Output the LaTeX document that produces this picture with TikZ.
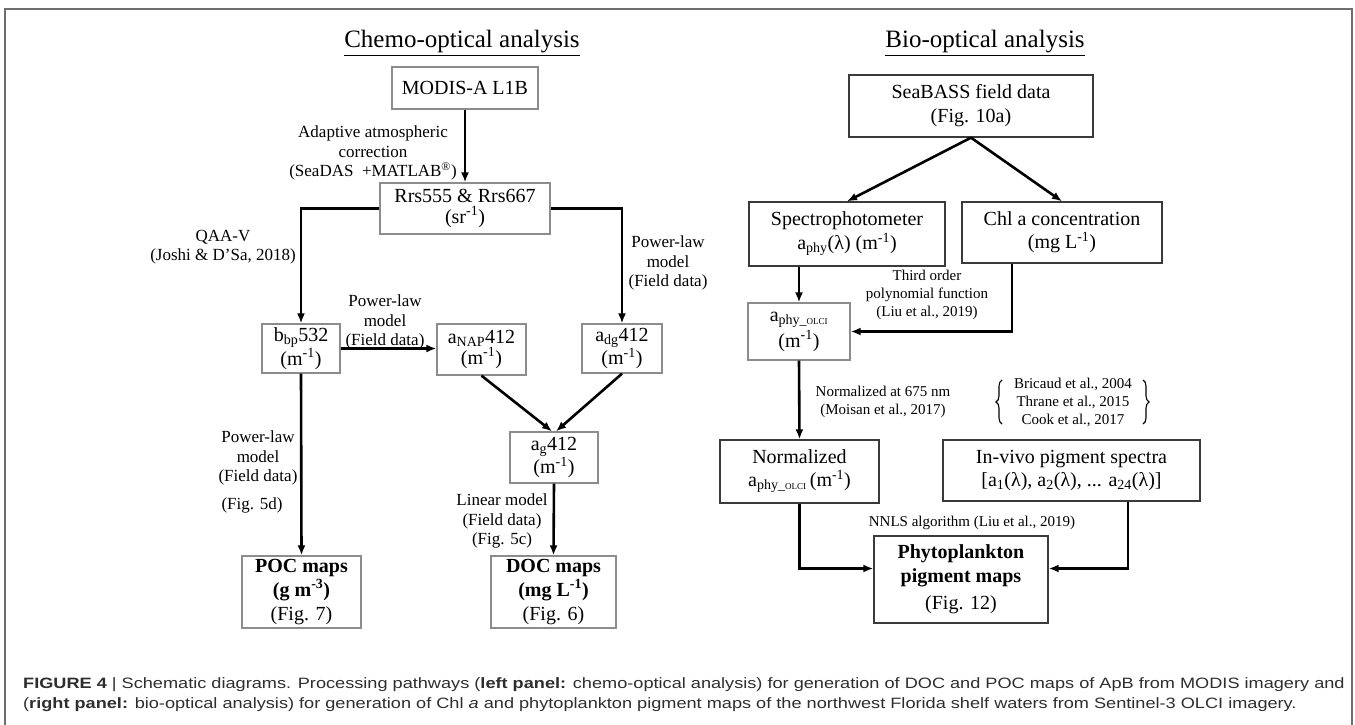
\documentclass[tikz,border=0pt]{standalone}
\usepackage{fontspec}
\setmainfont{Liberation Serif}
\setsansfont{Liberation Sans}
\newfontfamily\capfont{Liberation Sans}[FakeStretch=1.21]
\usetikzlibrary{arrows.meta,decorations.pathreplacing}
\definecolor{boxgray}{HTML}{8C8C8C}
\definecolor{boxdark}{HTML}{3A3A3A}
\definecolor{framegray}{HTML}{6E6E6E}
\definecolor{captext}{HTML}{2E2E2E}
\newcommand\fsbox{\fontsize{20}{21}\selectfont}
\newcommand\fsboxb{\fontsize{20}{24}\selectfont}
\newcommand\fslab{\fontsize{17}{19.5}\selectfont}
\newcommand\fssmall{\fontsize{15}{18}\selectfont}
\newcommand\fstitle{\fontsize{25}{27}\selectfont}
\newcommand\fscap{\fontsize{15}{18}\selectfont}
\newcommand\olci{{\fontsize{9}{9}\selectfont OLCI}}
\begin{document}
\begin{tikzpicture}[x=1pt,y=-1pt,
  bx/.style={draw=boxgray, line width=1.3pt, inner sep=0pt, align=center, font=\fsbox},
  bxd/.style={bx, draw=boxdark},
  lab/.style={inner sep=0pt, align=center, font=\fslab},
  slab/.style={inner sep=0pt, align=center, font=\fssmall},
  ttl/.style={inner sep=0pt, font=\fstitle},
  arr/.style={line width=2.6pt, -{Latex[length=10pt,width=8pt]}},
  captxt/.style={inner sep=0pt, anchor=base west, font=\capfont\fscap, text=captext}]
\useasboundingbox (0,0) rectangle (1355,725);
\fill[white] (0,0) rectangle (1355,725);
\draw[framegray, line width=1.8pt] (5,740) -- (5,9) -- (1352,9) -- (1352,740);

% titles
\node[ttl] (t1) at (462,43) {\underline{Chemo-optical analysis}};
\node[ttl] (t2) at (985,43) {\underline{Bio-optical analysis}};

% left panel boxes
\node[bx, minimum width=146, minimum height=42] (modis) at (465,88) {MODIS-A L1B};
\node[bx, minimum width=170, minimum height=51] (rrs) at (465,208.5) {Rrs555 \& Rrs667\\(sr\textsuperscript{-1})};
\node[bx, minimum width=78, minimum height=49] (bbp) at (301,348.5) {b\textsubscript{bp}532\\(m\textsuperscript{-1})};
\node[bx, minimum width=89, minimum height=51] (anap) at (481.5,349.5) {a\textsubscript{NAP}412\\(m\textsuperscript{-1})};
\node[bx, minimum width=80, minimum height=49] (adg) at (622,348.5) {a\textsubscript{dg}412\\(m\textsuperscript{-1})};
\node[bx, minimum width=88, minimum height=51] (ag) at (554,457.5) {a\textsubscript{g}412\\(m\textsuperscript{-1})};
\node[bx, font=\fsboxb, minimum width=119, minimum height=72] (poc) at (301.5,592) {\textbf{POC maps}\\\textbf{(g m\textsuperscript{-3})}\\(Fig. 7)};
\node[bx, font=\fsboxb, minimum width=125, minimum height=72] (doc) at (553.5,592) {\textbf{DOC maps}\\\textbf{(mg L\textsuperscript{-1})}\\(Fig. 6)};

% left panel connectors
\draw[arr] (modis.south) -- (rrs.north);
\draw[arr] (rrs.west) -| (bbp.north);
\draw[arr] (rrs.east) -| (adg.north);
\draw[arr] (bbp.east) -- (anap.west |- bbp.east);
\draw[arr] (anap.south) -- ([xshift=-2pt]ag.north);
\draw[arr] (adg.south) -- ([xshift=2pt]ag.north);
\draw[arr] (bbp.south) -- (poc.north);
\draw[arr] (ag.south) -- (doc.north);

% left panel labels
\node[lab] (l1) at (373,153) {Adaptive atmospheric\\correction\\(SeaDAS\ \ +MATLAB\textsuperscript{®})};
\node[lab] (l2) at (223,247) {QAA-V\\(Joshi \& D’Sa, 2018)};
\node[lab] (l3) at (668,263) {Power-law\\model\\(Field data)};
\node[lab] (l4) at (385,322) {Power-law\\model\\(Field data)};
\node[lab] (l5) at (258,458) {Power-law\\model\\(Field data)};
\node[lab] (l6) at (252,505) {(Fig. 5d)};
\node[lab] (l7) at (502,521) {Linear model\\(Field data)\\(Fig. 5c)};

% right panel boxes
\node[bxd, minimum width=244, minimum height=62] (sea) at (971,106) {SeaBASS field data\\[3pt](Fig. 10a)};
\node[bxd, minimum width=196, minimum height=64] (spec) at (847,234) {Spectrophotometer\\[2pt]a\textsubscript{phy}(λ) (m\textsuperscript{-1})};
\node[bxd, minimum width=200, minimum height=61] (chl) at (1062,232.5) {Chl a concentration\\[2pt](mg L\textsuperscript{-1})};
\node[bx, minimum width=102, minimum height=57] (aolci) at (799,331.5) {a\textsubscript{phy\_\olci}\\[2pt](m\textsuperscript{-1})};
\node[bxd, minimum width=159, minimum height=63] (norm) at (799.5,471.5) {Normalized\\[2pt]a\textsubscript{phy\_\olci}\,(m\textsuperscript{-1})};
\node[bxd, minimum width=257, minimum height=61] (invivo) at (1071.5,470.5) {In-vivo pigment spectra\\[2pt]{[}a\textsubscript{1}(λ), a\textsubscript{2}(λ), ... a\textsubscript{24}(λ)]};
\node[bxd, font=\fsboxb, minimum width=174, minimum height=87] (phyto) at (961,579.5) {\textbf{Phytoplankton}\\\textbf{pigment maps}\\[3pt](Fig. 12)};

% right panel connectors
\draw[arr] (sea.south) -- (spec.north);
\draw[arr] (sea.south) -- (chl.north);
\draw[arr] (aolci.north |- spec.south) -- (aolci.north);
\draw[arr] ([xshift=-50pt]chl.south) |- (aolci.east);
\draw[arr] (aolci.south) -- (norm.north);
\draw[arr] (norm.south) |- ([yshift=11pt]phyto.west);
\draw[arr] ([xshift=56.5pt]invivo.south) |- ([yshift=11pt]phyto.east);

% right panel labels
\node[slab] (r1) at (927,295) {Third order\\polynomial function\\(Liu et al., 2019)};
\node[slab] (r2) at (883,402) {Normalized at 675 nm\\(Moisan et al., 2017)};
\node[slab] (r3) at (1073,402) {Bricaud et al., 2004\\Thrane et al., 2015\\Cook et al., 2017};
\coordinate (bl1) at (1002,424);
\coordinate (bl2) at (1002,380);
\coordinate (br1) at (1143,380);
\coordinate (br2) at (1143,424);
\draw[line width=1.1pt, decorate, decoration={brace, amplitude=6pt}] (bl1) -- (bl2);
\draw[line width=1.1pt, decorate, decoration={brace, amplitude=6pt}] (br1) -- (br2);
\node[slab] (r4) at (972,523) {NNLS algorithm (Liu et al., 2019)};

% caption
\node[captxt] (c1) at (23,688) {\textbf{FIGURE 4} | Schematic diagrams. Processing pathways (\textbf{left panel:} chemo-optical analysis) for generation of DOC and POC maps of ApB from MODIS imagery and};
\node[captxt] (c2) at (23,708) {(\textbf{right panel:} bio-optical analysis) for generation of Chl \textit{a} and phytoplankton pigment maps of the northwest Florida shelf waters from Sentinel-3 OLCI imagery.};
\end{tikzpicture}
\end{document}
